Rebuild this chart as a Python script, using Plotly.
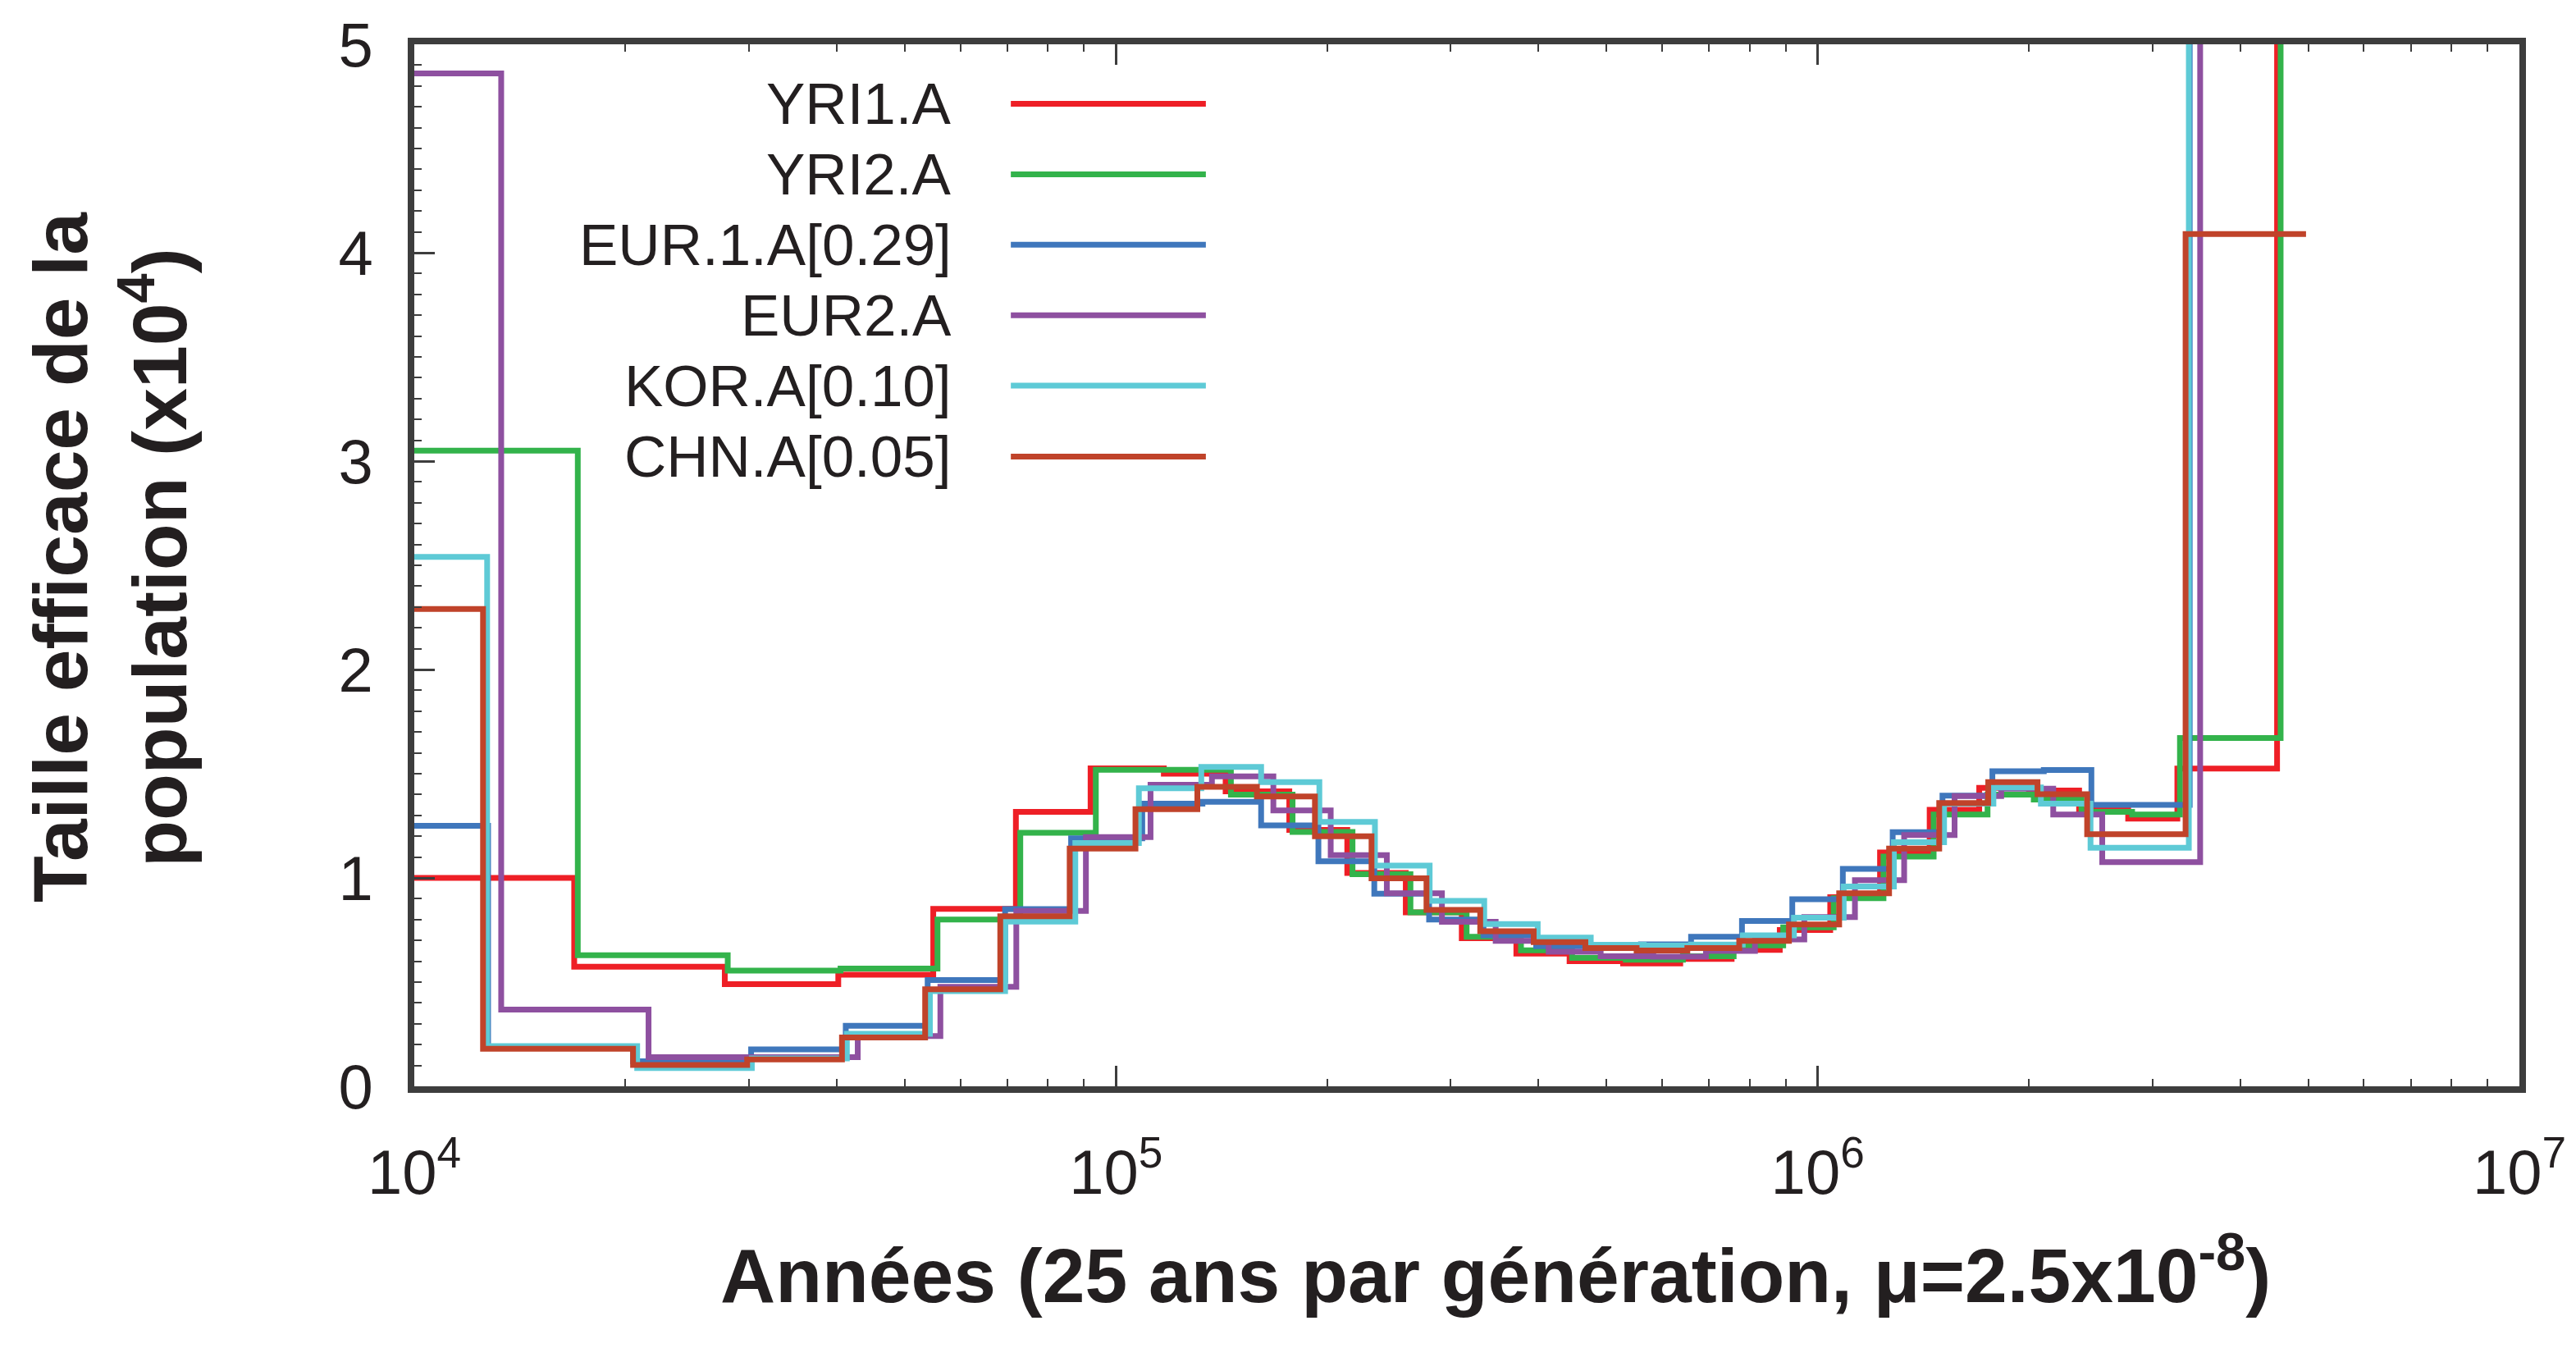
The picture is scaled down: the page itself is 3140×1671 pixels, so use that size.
import plotly.graph_objects as go

# ---------------- data ----------------
series_names = ["YRI1.A", "YRI2.A", "EUR.1.A[0.29]", "EUR2.A", "KOR.A[0.10]", "CHN.A[0.05]"]
series_colors = ["#ee1f26", "#33b34b", "#3f77bc", "#8e50a0", "#5ecad6", "#c0432a"]

# step start times (years); last entry = end of final step
yri1_t = [1.0e4, 16.9e3, 27.7e3, 40.2e3, 54.9e3, 72.0e3, 92.0e3, 117e3, 143.3e3, 176.6e3, 213.6e3,
          258.8e3, 311e3, 372e3, 443e3, 528e3, 637e3, 754e3, 883e3, 1.042e6, 1.227e6, 1.444e6,
          1.699e6, 2.0e6, 2.358e6, 2.77e6, 3.255e6, 4.515e6, 6.0e6]
yri1_v = [1.00, 0.574, 0.49, 0.535, 0.851, 1.317, 1.526, 1.50, 1.415, 1.23, 1.024,
          0.835, 0.711, 0.637, 0.60, 0.59, 0.611, 0.655, 0.75, 0.907, 1.122, 1.327,
          1.432, 1.419, 1.327, 1.284, 1.525, 9.0, 9.0]

yri2_t = [1.0e4, 17.1e3, 27.97e3, 40.5e3, 55.67e3, 73.05e3, 93.6e3, 145.8e3, 178.5e3, 217.3e3,
          262.8e3, 316e3, 377.7e3, 446.7e3, 532.7e3, 642.6e3, 759e3, 893e3, 1.054e6, 1.241e6,
          1.463e6, 1.746e6, 2.032e6, 2.377e6, 2.806e6, 3.283e6, 4.568e6, 6.0e6]
yri2_v = [3.05, 0.629, 0.555, 0.565, 0.80, 1.217, 1.519, 1.40, 1.22, 1.018,
          0.835, 0.718, 0.653, 0.616, 0.607, 0.624, 0.676, 0.763, 0.903, 1.102,
          1.304, 1.40, 1.376, 1.317, 1.304, 1.671, 9.0, 9.0]

eur1_t = [1.0e4, 12.74e3, 20.5e3, 30.2e3, 41.2e3, 53.9e3, 69.5e3, 86.3e3, 109e3, 132.8e3, 161e3,
          194.3e3, 233.4e3, 279.4e3, 334e3, 397e3, 470e3, 560e3, 660e3, 780e3, 920e3, 1.086e6,
          1.279e6, 1.506e6, 1.774e6, 2.1e6, 2.455e6, 3.39e6, 5.0e6]
eur1_v = [1.25, 0.185, 0.12, 0.177, 0.29, 0.51, 0.85, 1.19, 1.356, 1.365, 1.252,
          1.08, 0.924, 0.80, 0.724, 0.672, 0.668, 0.681, 0.718, 0.793, 0.898, 1.043,
          1.219, 1.395, 1.512, 1.518, 1.35, 9.0, 9.0]

eur2_t = [1.0e4, 13.3e3, 21.57e3, 42.85e3, 56.2e3, 72.1e3, 90.6e3, 112e3, 137e3, 167.6e3, 202.3e3,
          243.2e3, 291.4e3, 347.6e3, 413.6e3, 490.6e3, 583e3, 693e3, 814e3, 957e3, 1.13e6,
          1.328e6, 1.567e6, 1.826e6, 2.166e6, 2.544e6, 3.508e6, 5.0e6]
eur2_v = [4.86, 0.368, 0.14, 0.241, 0.477, 0.842, 1.196, 1.447, 1.487, 1.324, 1.109,
          0.926, 0.789, 0.698, 0.646, 0.624, 0.622, 0.65, 0.705, 0.812, 0.989,
          1.206, 1.393, 1.428, 1.304, 1.076, 9.0, 9.0]

kor_t = [1.0e4, 12.7e3, 20.78e3, 30.27e3, 41.35e3, 54.3e3, 69.5e3, 87.5e3, 107.8e3, 132.3e3, 161e3,
         194.9e3, 233.9e3, 279.9e3, 334.8e3, 399e3, 474.9e3, 565e3, 660e3, 782e3, 925e3, 1.089e6,
         1.284e6, 1.514e6, 1.78e6, 2.08e6, 2.448e6, 3.38e6, 5.0e6]
kor_v = [2.54, 0.193, 0.088, 0.134, 0.252, 0.457, 0.79, 1.167, 1.43, 1.532, 1.46,
         1.269, 1.059, 0.89, 0.779, 0.714, 0.679, 0.675, 0.68, 0.724, 0.809, 0.959,
         1.171, 1.356, 1.434, 1.356, 1.145, 9.0, 9.0]

chn_t = [1.0e4, 12.53e3, 20.5e3, 29.81e3, 40.69e3, 53.46e3, 68.4e3, 85.9e3, 106.6e3, 130.6e3, 158.8e3,
         192.1e3, 231.3e3, 277e3, 330.4e3, 393.8e3, 466.6e3, 552e3, 652e3, 773e3, 910e3, 1.073e6,
         1.264e6, 1.49e6, 1.75e6, 2.057e6, 2.421e6, 3.344e6, 4.965e6]
chn_v = [2.29, 0.18, 0.102, 0.129, 0.234, 0.466, 0.816, 1.141, 1.33, 1.437, 1.391,
         1.20, 0.998, 0.846, 0.744, 0.692, 0.663, 0.652, 0.663, 0.698, 0.777, 0.926,
         1.141, 1.359, 1.46, 1.402, 1.21, 4.09, 4.09]

x_tick_vals = [1e4, 1e5, 1e6, 1e7]
x_tick_text = ["10<sup>4</sup>", "10<sup>5</sup>", "10<sup>6</sup>", "10<sup>7</sup>"]
y_tick_vals = [0, 1, 2, 3, 4, 5]
y_tick_text = ["0", "1", "2", "3", "4", "5"]

x_title = "Années (25 ans par génération, μ=2.5x10<sup>-8</sup>)"
y_title = "Taille efficace de la<br>population (x10<sup>4</sup>)"

all_t = [yri1_t, yri2_t, eur1_t, eur2_t, kor_t, chn_t]
all_v = [yri1_v, yri2_v, eur1_v, eur2_v, kor_v, chn_v]

# ---------------- layout constants (pixels) ----------------
W, H = 3140, 1671
PL, PR, PT, PB = 505, 3074, 45, 1324
AX = "#3d3d3d"
TXT = "#231f20"
NARROW = "Liberation Sans Narrow, Arial Narrow, Liberation Sans, sans-serif"
SANS = "Liberation Sans, Arial, sans-serif"


def fx(p):
    return (p - PL) / (PR - PL)


def fy(p):
    return (PB - p) / (PB - PT)


fig = go.Figure()
for name, col, t, v in zip(series_names, series_colors, all_t, all_v):
    fig.add_trace(go.Scatter(x=t, y=v, mode="lines", name=name,
                             line=dict(color=col, width=7, shape="hv"),
                             showlegend=False, hoverinfo="skip"))

minor_x = [m * 10 ** k for k in range(4, 7) for m in range(2, 10)]

fig.update_xaxes(type="log", range=[4, 7], tickmode="array", tickvals=x_tick_vals,
                 ticktext=x_tick_text, ticks="inside", ticklen=25, tickwidth=2.5,
                 tickcolor=AX, showline=True, linewidth=8, linecolor=AX, mirror="ticks",
                 showgrid=False, zeroline=False,
                 tickfont=dict(family=NARROW, size=76, color=TXT),
                 ticklabelstandoff=32,
                 minor=dict(tickmode="array", tickvals=minor_x, ticks="inside", ticklen=9,
                            tickwidth=2, tickcolor=AX, showgrid=False))
fig.update_yaxes(range=[0, 5], tickmode="array", tickvals=y_tick_vals, ticktext=y_tick_text,
                 ticks="inside", ticklen=25, tickwidth=2.5, tickcolor=AX,
                 showline=True, linewidth=8, linecolor=AX, mirror=True,
                 showgrid=False, zeroline=False,
                 tickfont=dict(family=SANS, size=76, color=TXT),
                 ticklabelstandoff=27,
                 minor=dict(dtick=0.1, ticks="inside", ticklen=9, tickwidth=2,
                            tickcolor=AX, showgrid=False))

# manual legend: text sits to the left of its line sample
leg_rows = [118, 204.5, 291, 377.5, 464, 551]
leg_text_right = 1163
leg_line = (1233, 1471)
annotations = []
shapes = []
for name, col, ry in zip(series_names, series_colors, leg_rows):
    annotations.append(dict(x=fx(leg_text_right), y=fy(ry), xref="paper", yref="paper",
                            text=name, showarrow=False, xanchor="right", yanchor="middle",
                            font=dict(family=NARROW, size=71, color=TXT)))
    shapes.append(dict(type="line", xref="paper", yref="paper",
                       x0=fx(leg_line[0]), x1=fx(leg_line[1]), y0=fy(ry), y1=fy(ry),
                       line=dict(color=col, width=7)))

annotations.append(dict(x=fx(1825), y=fy(1550), xref="paper", yref="paper", text=x_title,
                        showarrow=False, xanchor="center", yanchor="middle",
                        font=dict(family=SANS, size=93, color=TXT, weight="bold")))
annotations.append(dict(x=fx(134), y=fy(674), xref="paper", yref="paper", text=y_title,
                        showarrow=False, xanchor="center", yanchor="middle", textangle=-90,
                        font=dict(family=SANS, size=93, color=TXT, weight="bold")))

fig.update_layout(width=W, height=H, autosize=False,
                  margin=dict(l=PL, r=W - PR, t=PT, b=H - PB, pad=0),
                  paper_bgcolor="white", plot_bgcolor="white",
                  annotations=annotations, shapes=shapes, showlegend=False)

fig.write_html("out.html", config={"displayModeBar": False},
               post_script="document.body.style.margin='0';document.body.style.overflow='hidden';")
